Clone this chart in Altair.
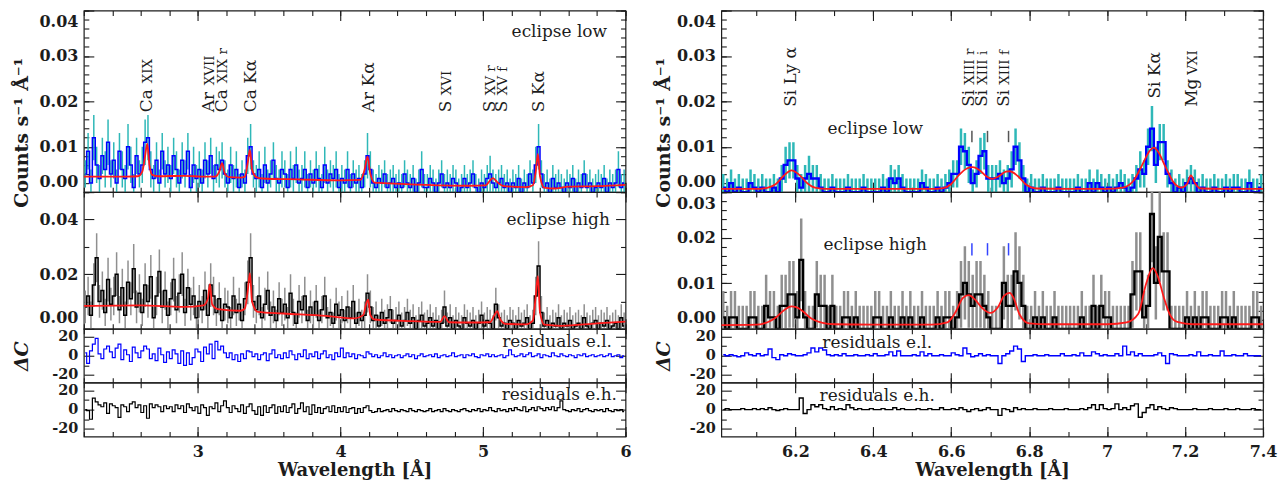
import altair as alt
import pandas as pd

FONT = "DejaVu Serif"
INK = "#1c1c1c"
CYAN = "#2fb8b8"
GRAY = "#8f8f8f"
BLUE = "#0000ff"
RED = "#ff1a1a"
MARK_GRAY = "#555555"

# ---------------- left column: 2.2-6.0 A, 0.02 A bins, values in 1e-3 counts/s/A ----------------
L_START, L_BIN, L_UNIT = 2.20, 0.02, 1e-3
EL_L = [4, 9, 2, 12, 6, 3, 8, 5, 11, 4,
        7, 2, 9, 5, 3, 10, 6, 1, 8, 4,
        6, 11, 12, 5, 3, 7, 2, 9, 4, 6,
        3, 8, 5, 2, 7, 4, 9, 1, 6, 3,
        5, 2, 7, 4, 8, 3, 6, 5, 7, 4,
        2, 6, 3, 5, 1, 4, 2, 8, 10, 4,
        3, 5, 1, 6, 2, 4, 7, 3, 2, 5,
        4, 1, 5, 3, 6, 2, 3, 5, 1, 4,
        2, 5, 3, 1, 6, 2, 4, 3, 5, 1,
        3, 2, 5, 1, 4, 2, 3, 1, 4, 8,
        5, 2, 1, 3, 2, 4, 1, 2, 3, 1,
        2, 1, 4, 2, 1, 3, 0, 2, 5, 1,
        1, 3, 2, 0, 2, 4, 1, 2, 1, 3,
        2, 0, 1, 3, 1, 2, 4, 1, 0, 2,
        1, 3, 4, 2, 1, 2, 3, 1, 2, 0,
        2, 1, 3, 0, 2, 1, 4, 2, 6, 10,
        4, 1, 2, 0, 3, 1, 2, 1, 0, 2,
        1, 3, 0, 2, 1, 4, 1, 2, 0, 1,
        2, 1, 3, 0, 2, 1, 2, 5, 1, 2]
ERR_EL_L = [3, 4, 3, 5, 4, 3, 4, 4, 5, 3,
            4, 3, 4, 4, 3, 5, 4, 3, 4, 3,
            4, 5, 5, 4, 3, 4, 3, 4, 3, 4,
            3, 4, 4, 3, 4, 3, 4, 3, 4, 3,
            4, 3, 4, 3, 4, 3, 4, 4, 4, 3,
            3, 4, 3, 4, 3, 3, 3, 4, 5, 3,
            3, 4, 3, 4, 3, 3, 4, 3, 3, 4,
            3, 3, 4, 3, 4, 3, 3, 4, 3, 3,
            3, 4, 3, 3, 4, 3, 3, 3, 4, 3,
            3, 3, 4, 3, 3, 3, 3, 3, 3, 5,
            4, 3, 3, 3, 3, 3, 3, 3, 3, 3,
            3, 3, 3, 3, 3, 3, 3, 3, 4, 3,
            3, 3, 3, 3, 3, 3, 3, 3, 3, 3,
            3, 3, 3, 3, 3, 3, 3, 3, 3, 3,
            3, 3, 4, 3, 3, 3, 3, 3, 3, 3,
            3, 3, 3, 3, 3, 3, 3, 3, 4, 5,
            3, 3, 3, 3, 3, 3, 3, 3, 3, 3,
            3, 3, 3, 3, 3, 3, 3, 3, 3, 3,
            3, 3, 3, 3, 3, 3, 3, 4, 3, 3]
EH_L = [8, 12, 5, 16, 26, 10, 14, 6, 18, 9,
        12, 20, 7, 15, 5, 17, 11, 22, 8, 13,
        6, 16, 10, 19, 4, 12, 21, 8, 14, 5,
        11, 18, 7, 13, 20, 6, 15, 9, 12, 4,
        10, 7, 14, 5, 16, 12, 6, 11, 3, 9,
        8, 4, 12, 6, 9, 3, 11, 17, 26, 10,
        7, 12, 4, 9, 14, 5, 8, 3, 11, 6,
        9, 4, 13, 6, 2, 10, 7, 12, 3, 8,
        5, 10, 3, 7, 12, 4, 6, 2, 9, 5,
        7, 3, 8, 4, 10, 2, 6, 3, 5, 13,
        8, 3, 5, 1, 6, 2, 4, 7, 2, 3,
        5, 1, 3, 6, 2, 4, 0, 3, 5, 1,
        2, 4, 1, 3, 0, 2, 8, 1, 4, 0,
        3, 1, 0, 4, 2, 1, 3, 0, 2, 5,
        1, 3, 2, 0, 9, 4, 1, 2, 0, 3,
        2, 0, 3, 1, 2, 4, 0, 2, 12, 23,
        6, 1, 3, 0, 2, 1, 4, 0, 2, 1,
        3, 0, 1, 2, 0, 4, 1, 0, 2, 3,
        0, 2, 1, 3, 0, 1, 2, 0, 4, 1]
ERR_EH_L = [6, 7, 5, 8, 9, 6, 7, 5, 8, 6,
            7, 8, 5, 7, 5, 8, 6, 9, 6, 7,
            5, 8, 6, 8, 4, 7, 8, 6, 7, 5,
            6, 8, 5, 7, 8, 5, 7, 6, 7, 4,
            6, 5, 7, 5, 8, 7, 5, 6, 4, 6,
            6, 4, 7, 5, 6, 4, 6, 8, 9, 6,
            5, 7, 4, 6, 7, 5, 6, 4, 6, 5,
            6, 4, 7, 5, 4, 6, 5, 7, 4, 6,
            5, 6, 4, 5, 7, 4, 5, 4, 6, 5,
            5, 4, 6, 4, 6, 4, 5, 4, 5, 7,
            6, 5, 5, 4, 5, 5, 5, 5, 5, 5,
            5, 5, 5, 5, 5, 5, 5, 5, 5, 5,
            5, 5, 5, 5, 5, 5, 6, 5, 5, 5,
            5, 5, 5, 5, 5, 5, 5, 5, 5, 5,
            5, 5, 5, 5, 6, 5, 5, 5, 5, 5,
            5, 5, 5, 5, 5, 5, 5, 5, 7, 9,
            6, 5, 5, 5, 5, 5, 5, 5, 5, 5,
            5, 5, 5, 5, 5, 5, 5, 5, 5, 5,
            5, 5, 5, 5, 5, 5, 5, 5, 5, 5]
RES_EL_L = [3, -8, 5, 12, 18, 2, -3, 7, 10, 4,
            -2, 8, 12, -4, 6, 1, -6, 9, 3, -2,
            5, 10, 7, -3, 2, -5, 8, 1, -7, 4,
            -3, 6, 2, -8, 5, -10, 3, -9, -2, 7,
            4, -6, 9, 2, 12, -3, 15, 6, 10, 3,
            -2, 3, -4, 1, -6, 2, -3, 5, 4, -1,
            2, -4, 1, 3, -5, 2, 6, -2, 1, -3,
            3, -2, 5, 1, -4, 2, -1, 6, -3, 2,
            -1, 4, -3, 2, 5, -2, 1, -4, 3, -1,
            8, -2, 3, -1, 2, -3, 1, 0, -2, 4,
            2, -1, 1, -2, 0, 3, -1, 1, -2, 0,
            1, -2, 0, 2, -1, 1, -3, 0, 2, -1,
            0, 1, -1, 2, -2, 0, 1, -1, 0, 3,
            -1, 0, 1, -2, 1, 0, 2, -1, -2, 1,
            0, 2, -1, 1, -1, 0, 1, -2, 0, 6,
            1, -1, 0, 2, -1, 1, 3, -1, 0, 2,
            -2, 1, 0, -1, 3, 0, -1, 2, 0, -1,
            1, 0, -2, 1, 0, 2, -1, 0, 1, -1,
            0, 1, -1, 0, 2, -1, 0, 1, -2, 0]
RES_EH_L = [0, -1, -10, 12, 8, 5, 3, 7, -4, 6,
            4, 2, -8, 5, 3, -2, 6, 8, 2, 5,
            -3, 4, -9, 6, 2, 5, 3, -2, 4, 1,
            3, -2, 5, 1, 4, -3, 6, 2, -1, 3,
            -4, 5, 2, -6, 3, 1, 7, -2, 4, 9,
            2, -3, 4, 1, -2, 5, -4, 3, 6, -1,
            -5, 3, -6, 4, -3, 2, 5, -4, 3, -2,
            4, -3, 2, 6, -4, 1, 7, -2, 3, -5,
            5, -3, 2, -4, 1, 3, -2, 4, -3, 2,
            -2, 3, -3, 1, 2, -4, 1, -3, 2, 4,
            -1, -3, -2, 1, -2, -1, 0, -2, 1, -1,
            -2, 0, -1, -2, 1, -1, -2, 0, -1, -2,
            -1, 1, -2, -1, 0, -2, 1, -1, -2, 0,
            -1, -2, 0, 1, -1, -2, 0, -1, 1, -2,
            0, -1, 2, -1, -2, 1, -1, 0, -2, 1,
            -1, 2, 0, -1, 3, -2, 0, 2, -1, 3,
            1, -1, 2, 0, 3, -1, 2, 9, 0, -1,
            -2, 0, -1, 1, -2, 0, 1, -1, -2, 0,
            -1, 0, -2, 1, -1, -2, 0, -1, 0, -2]
MOD_EL_L_X = [2.20, 2.50, 2.58, 2.61, 2.63, 2.645, 2.66, 2.68, 2.72, 2.90,
              3.05, 3.12, 3.15, 3.17, 3.19, 3.22, 3.30, 3.33, 3.35, 3.365,
              3.38, 3.41, 3.45, 3.70, 4.00, 4.14, 4.17, 4.19, 4.21, 4.24,
              4.30, 4.60, 4.90, 5.02, 5.05, 5.07, 5.10, 5.14, 5.30, 5.35,
              5.37, 5.385, 5.40, 5.43, 5.50, 5.60, 5.80, 6.00]
MOD_EL_L_Y = [3.4, 3.4, 3.5, 4.5, 8.0, 10.7, 6.0, 3.8, 3.5, 3.6,
              3.4, 3.4, 4.5, 6.4, 4.0, 3.3, 3.2, 3.4, 6.5, 9.3,
              5.0, 3.3, 3.0, 2.8, 2.6, 2.7, 5.0, 7.8, 4.0, 2.1,
              2.0, 1.6, 1.4, 1.5, 2.6, 3.1, 2.2, 1.4, 1.1, 1.5,
              4.5, 8.4, 3.5, 1.0, 0.8, 1.2, 1.3, 1.6]
MOD_EH_L_X = [2.20, 2.60, 2.90, 3.04, 3.07, 3.085, 3.10, 3.14, 3.30, 3.33,
              3.35, 3.365, 3.38, 3.42, 3.60, 3.90, 4.10, 4.16, 4.18, 4.195,
              4.21, 4.24, 4.50, 4.70, 4.73, 4.76, 4.90, 5.05, 5.08, 5.10,
              5.12, 5.16, 5.30, 5.35, 5.37, 5.385, 5.40, 5.43, 5.55, 5.80, 6.00]
MOD_EH_L_Y = [8.4, 8.6, 8.0, 8.6, 11.0, 16.3, 9.0, 7.2, 6.6, 7.5,
              14.0, 20.4, 10.0, 6.2, 5.6, 4.7, 3.8, 5.0, 9.0, 10.7,
              5.0, 3.4, 2.8, 2.5, 4.6, 2.4, 2.3, 2.4, 5.0, 6.5,
              3.5, 1.8, 1.6, 3.0, 12.0, 19.3, 6.0, 1.5, 1.1, 2.0, 2.6]

L_LINE_X = [2.635, 3.07, 3.16, 3.365, 4.195, 4.735, 5.045, 5.125, 5.385]
L_LINE_EL = ["Ca", "Ar", "Ca", "Ca K\u03b1", "Ar K\u03b1", "S", "S", "S", "S K\u03b1"]
L_LINE_ION = ["XIX", "XVII", "XIX r", "", "", "XVI", "XV r", "XV f", ""]
L_LINE_Y = [0.0176] * 9

# ---------------- right column: 6.01-7.40 A, 0.01 A bins ----------------
R_START, R_BIN = 6.01, 0.01
EL_R = [1, 0, 2, 0, 1, 0, 0, 2, 1, 0,
        1, 0, 0, 1, 0, 3, 6, 7, 7, 3,
        1, 3, 4, 3, 3, 1, 0, 0, 1, 0,
        0, 0, 1, 0, 0, 0, 1, 0, 0, 0,
        0, 1, 0, 3, 2, 3, 1, 0, 0, 0,
        0, 2, 1, 0, 0, 1, 0, 1, 2, 4,
        4, 10, 9, 6, 2, 4, 8, 9, 3, 3,
        3, 4, 2, 3, 5, 10, 7, 3, 0, 1,
        0, 0, 1, 0, 0, 0, 1, 0, 0, 0,
        0, 1, 0, 0, 2, 0, 2, 1, 0, 1,
        0, 1, 2, 1, 0, 1, 3, 5, 4, 10,
        14, 6, 11, 11, 4, 2, 0, 1, 0, 2,
        3, 2, 0, 1, 0, 0, 1, 0, 0, 1,
        0, 1, 1, 0, 0, 2, 0, 0, 1]
ERR_EL_R = [3, 3, 3, 3, 3, 3, 3, 3, 3, 3,
            3, 3, 3, 3, 3, 3, 4, 4, 4, 3,
            3, 3, 4, 3, 3, 3, 3, 3, 3, 3,
            3, 3, 3, 3, 3, 3, 3, 3, 3, 3,
            3, 3, 3, 3, 3, 3, 3, 3, 3, 3,
            3, 3, 3, 3, 3, 3, 3, 3, 3, 3,
            3, 4, 4, 4, 3, 3, 4, 4, 3, 3,
            3, 3, 3, 3, 4, 4, 4, 3, 3, 3,
            3, 3, 3, 3, 3, 3, 3, 3, 3, 3,
            3, 3, 3, 3, 3, 3, 3, 3, 3, 3,
            3, 3, 3, 3, 3, 3, 3, 4, 3, 4,
            5, 4, 4, 4, 3, 3, 3, 3, 3, 3,
            3, 3, 3, 3, 3, 3, 3, 3, 3, 3,
            3, 3, 3, 3, 3, 3, 3, 3, 3]
EL_R_UNIT = 1e-3
EH_R_COUNTS = [1, 0, 1, 1, 0, 0, 0, 1, 1, 0,
               0, 2, 1, 1, 0, 2, 2, 3, 3, 1,
               6, 1, 0, 0, 3, 2, 2, 0, 2, 0,
               0, 1, 1, 0, 1, 0, 0, 0, 0, 1,
               1, 0, 0, 1, 0, 0, 1, 0, 1, 0,
               0, 1, 0, 0, 0, 1, 0, 1, 1, 0,
               1, 3, 4, 3, 2, 3, 3, 2, 1, 0,
               0, 0, 4, 2, 2, 5, 4, 2, 0, 0,
               1, 0, 1, 0, 0, 1, 0, 0, 0, 0,
               0, 0, 1, 0, 0, 2, 0, 2, 1, 1,
               0, 0, 0, 0, 0, 3, 5, 5, 1, 2,
               10, 4, 8, 5, 5, 0, 0, 0, 0, 1,
               0, 1, 0, 1, 1, 0, 0, 0, 1, 1,
               0, 1, 0, 0, 0, 0, 1, 1, 0]
ERR_EH_R_COUNTS = [2.3, 2, 2.3, 2.3, 2, 2, 2, 2.3, 2.3, 2,
                   2, 2.7, 2.3, 2.3, 2, 2.7, 2.7, 2.9, 2.9, 2.3,
                   3.6, 2.3, 2, 2, 2.9, 2.7, 2.7, 2, 2.7, 2,
                   2, 2.3, 2.3, 2, 2.3, 2, 2, 2, 2, 2.3,
                   2.3, 2, 2, 2.3, 2, 2, 2.3, 2, 2.3, 2,
                   2, 2.3, 2, 2, 2, 2.3, 2, 2.3, 2.3, 2,
                   2.3, 2.9, 3.2, 2.9, 2.7, 2.9, 2.9, 2.7, 2.3, 2,
                   2, 2, 3.2, 2.7, 2.7, 3.4, 3.2, 2.7, 2, 2,
                   2.3, 2, 2.3, 2, 2, 2.3, 2, 2, 2, 2,
                   2, 2, 2.3, 2, 2, 2.7, 2, 2.7, 2.3, 2.3,
                   2, 2, 2, 2, 2, 2.9, 3.4, 3.4, 2.3, 2.7,
                   4.2, 3.2, 3.9, 3.4, 3.4, 2, 2, 2, 2, 2.3,
                   2, 2.3, 2, 2.3, 2.3, 2, 2, 2, 2.3, 2.3,
                   2, 2.3, 2, 2, 2, 2, 2.3, 2.3, 2]
EH_R_UNIT = 2.52e-3  # counts/s/A per count in a bin
RES_EL_R = [1, 0, 1, 0, -1, 0, 3, 1, 0, 2,
            0, 1, 7, -2, -4, 1, 0, 2, 1, 0,
            0, 1, 3, 8, 4, 8, 6, 1, 0, 1,
            0, 2, 0, 0, 1, 0, 0, 1, 0, 2,
            0, 0, 1, 4, 0, 5, 0, 0, 0, 1,
            0, 4, 0, 2, 0, 0, 1, 0, 0, 3,
            1, 0, 8, 2, -1, 0, 2, 0, 1, 0,
            0, -8, 0, 2, 5, 10, 7, -6, 0, 0,
            1, 0, 0, 1, 0, 0, 0, 2, 0, 0,
            1, 0, 3, 0, 0, 4, 2, 0, 1, 0,
            0, 2, 0, 10, 1, 4, 0, 2, 0, 0,
            0, 1, 3, 0, -8, 2, 1, 0, 0, 0,
            1, 0, 4, 0, 0, 1, 0, 0, 5, 0,
            0, 1, 0, 0, 2, 0, 0, 0, 0]
RES_EH_R = [0, 1, 0, 0, 0, 1, 0, 0, 1, 0,
            1, 0, 2, 0, -1, 0, 1, 0, 0, 0,
            12, -4, 0, 5, 3, 5, 1, 0, 3, 0,
            1, 0, 5, 2, 0, 1, 0, 0, 1, 0,
            0, 1, 0, 0, 2, 0, 1, 0, 0, 0,
            1, 0, 0, 1, 0, 0, 2, 0, 0, 1,
            0, 2, 0, -2, 0, 1, -1, 0, 2, 0,
            0, -6, 1, 0, -2, 2, 0, 1, 0, 0,
            1, 0, 0, 0, 1, 0, 0, 0, 1, 0,
            0, 0, 1, 0, 2, 5, 0, 5, 1, 0,
            1, 6, 0, 2, 0, 4, 6, -8, -3, 2,
            5, 0, 3, 1, 0, 2, 1, 0, 0, 0,
            0, 1, 0, 0, 0, 1, 0, 0, 0, 1,
            0, 0, 1, 0, 0, 0, 1, 0, 0]
MOD_EL_R_X = [6.01, 6.10, 6.13, 6.15, 6.17, 6.19, 6.21, 6.23, 6.25, 6.28,
              6.40, 6.55, 6.58, 6.60, 6.62, 6.64, 6.655, 6.67, 6.69, 6.705,
              6.72, 6.74, 6.75, 6.77, 6.79, 6.82, 6.90, 7.00, 7.04, 7.07,
              7.09, 7.11, 7.12, 7.13, 7.15, 7.17, 7.19, 7.205, 7.215, 7.225,
              7.24, 7.30, 7.40]
MOD_EL_R_Y = [0.7, 0.7, 1.0, 1.8, 3.6, 4.8, 3.8, 2.0, 1.0, 0.7,
              0.7, 0.7, 0.9, 1.8, 3.8, 5.2, 5.5, 5.0, 3.5, 2.9,
              3.4, 4.5, 4.6, 3.6, 1.8, 0.8, 0.7, 0.7, 1.0, 2.8,
              6.0, 9.2, 9.8, 9.0, 5.5, 2.2, 1.0, 1.8, 3.7, 2.0,
              0.8, 0.7, 0.7]
MOD_EH_R_X = [6.01, 6.10, 6.13, 6.15, 6.17, 6.19, 6.20, 6.22, 6.24, 6.27,
              6.30, 6.40, 6.55, 6.59, 6.61, 6.63, 6.645, 6.66, 6.68, 6.70,
              6.72, 6.735, 6.75, 6.76, 6.775, 6.80, 6.85, 7.00, 7.05, 7.08,
              7.10, 7.117, 7.13, 7.145, 7.16, 7.18, 7.22, 7.40]
MOD_EH_R_Y = [0.8, 0.9, 1.5, 2.5, 4.0, 4.9, 4.8, 3.8, 2.3, 1.3,
              1.0, 0.9, 0.9, 1.4, 3.5, 6.8, 7.4, 6.5, 4.5, 3.5,
              4.8, 7.2, 7.9, 6.8, 3.2, 1.2, 1.0, 1.0, 1.4, 3.3,
              9.9, 13.3, 11.5, 7.0, 3.3, 1.5, 1.0, 1.0]

R_LINE_X = [6.185, 6.643, 6.676, 6.732, 7.12, 7.216]
R_LINE_EL = ["Si Ly \u03b1", "Si", "Si", "Si", "Si K\u03b1", "Mg"]
R_LINE_ION = ["", "XIII r", "XIII i", "XIII f", "", "VXI"]
R_LINE_Y = [0.0188, 0.0188, 0.0188, 0.0188, 0.0206, 0.0188]
SI13_MARK_X = [6.653, 6.693, 6.747]
SI13_MARK_EL = (0.0110, 0.0135)
SI13_MARK_EH = (0.0161, 0.0188)

NOTES_L = [("eclipse low", 5.87, 0.0352), ("eclipse high", 5.89, 0.0397),
           ("residuals e.l.", 5.905, 14.5), ("residuals e.h.", 5.94, 15.5)]
NOTES_R = [("eclipse low", 6.405, 0.0140), ("eclipse high", 6.405, 0.0184),
           ("residuals e.l.", 6.41, 13.0), ("residuals e.h.", 6.41, 14.5)]

ELEM_ADV = {"Ca": 29, "Ar": 27, "S": 17, "Si": 22, "Mg": 32}

W = 543
H = [182, 137, 54, 54]


# ---------------- helpers ----------------
def sc(dom):
    return alt.Scale(domain=list(dom), nice=False, zero=False)


def xenc(xd):
    return alt.X("x:Q", scale=sc(xd), axis=None)


def yenc(yd, f="y"):
    return alt.Y(f + ":Q", scale=sc(yd), axis=None)


def spec_df(start, width, vals, errs, unit):
    return pd.DataFrame({
        "x": [start + width * (i + 0.5) for i in range(len(vals))],
        "y": [v * unit for v in vals],
        "lo": [(v - e) * unit for v, e in zip(vals, errs)],
        "hi": [(v + e) * unit for v, e in zip(vals, errs)],
    })


def res_df(start, width, vals):
    return pd.DataFrame({"x": [start + width * (i + 0.5) for i in range(len(vals))], "y": vals})


def model_df(xs, ys):
    return pd.DataFrame({"x": xs, "y": [v * 1e-3 for v in ys]})


def axis_layers(xd, yd, xmaj, xmin, ymaj, ymin, ylab_expr, x_labels=False, x_title=None,
                y_title=None, y_title_xy=(0, 0), y_flush=False, y_italic=False, ylab_size=16):
    carrier = pd.DataFrame({"x": [xd[0]], "y": [yd[0]]})
    out = []
    for xo, yo, major in (("bottom", "left", True), ("top", "right", True),
                          ("bottom", "left", False), ("top", "right", False)):
        ts = 10 if major else 5
        base = dict(tickSize=ts, offset=-ts, domain=False, grid=False, tickColor=INK,
                    tickWidth=1.1, labels=False, title=None)
        xkw = dict(base, orient=xo, values=xmaj if major else xmin)
        ykw = dict(base, orient=yo, values=ymaj if major else ymin)
        if major and xo == "bottom" and x_labels:
            xkw.update(labels=True, labelExpr="format(datum.value, '~g')", labelFont=FONT,
                       labelFontSize=16, labelFontWeight="bold", labelColor=INK,
                       labelPadding=7, labelFlush=False)
            if x_title:
                xkw.update(title=x_title, titleFont=FONT, titleFontSize=18,
                           titleFontWeight="bold", titleColor=INK, titlePadding=2)
        if major and yo == "left":
            ykw.update(labels=True, labelExpr=ylab_expr, labelFont=FONT, labelFontSize=ylab_size,
                       labelFontWeight="bold", labelColor=INK, labelPadding=6,
                       labelFlush=y_flush, labelFlushOffset=-3)
            if y_title:
                ykw.update(title=y_title, titleFont=FONT, titleFontSize=19,
                           titleFontWeight="bold", titleColor=INK, titleAngle=270,
                           titleAlign="center", titleBaseline="middle",
                           titleX=y_title_xy[0], titleY=y_title_xy[1],
                           titleFontStyle="italic" if y_italic else "normal")
        out.append(alt.Chart(carrier).mark_point(opacity=0).encode(
            x=alt.X("x:Q", scale=sc(xd), axis=alt.Axis(**xkw)),
            y=alt.Y("y:Q", scale=sc(yd), axis=alt.Axis(**ykw))))
    return out


def note_layer(xd, yd, text, x, y, align):
    d = pd.DataFrame({"x": [x], "y": [y], "t": [text]})
    return alt.Chart(d).mark_text(align=align, baseline="middle", font=FONT, fontSize=17,
                                  color=INK).encode(x=xenc(xd), y=yenc(yd), text="t:N")


def line_label_layers(xd, yd, xs, elems, ions, ys):
    d = pd.DataFrame({"x": xs, "y": ys, "el": elems})
    layers = [alt.Chart(d).mark_text(angle=270, align="left", baseline="alphabetic", dy=6,
                                     font=FONT, fontSize=17, color=INK).encode(
        x=xenc(xd), y=yenc(yd), text="el:N")]
    for x, e, ion, y in zip(xs, elems, ions, ys):
        if ion:
            di = pd.DataFrame({"x": [x], "y": [y], "t": [ion]})
            layers.append(alt.Chart(di).mark_text(
                angle=270, align="left", baseline="alphabetic", dx=ELEM_ADV[e], dy=6,
                font=FONT, fontSize=13.5, color=INK).encode(x=xenc(xd), y=yenc(yd), text="t:N"))
    return layers


def flux_panel(df, mod, xd, yd, err_color, line_color, err_w, line_w, h, extras, ax):
    layers = [
        alt.Chart(df).mark_rule(color=err_color, strokeWidth=err_w, clip=True).encode(
            x=xenc(xd), y=yenc(yd, "lo"), y2="hi:Q"),
        alt.Chart(df).mark_line(interpolate="step", color=line_color, strokeWidth=line_w,
                                clip=True).encode(x=xenc(xd), y=yenc(yd)),
        alt.Chart(mod).mark_line(interpolate="monotone", color=RED, strokeWidth=1.8,
                                 clip=True).encode(x=xenc(xd), y=yenc(yd)),
    ] + extras + axis_layers(xd, yd, **ax)
    return alt.layer(*layers).resolve_axis(x="independent", y="independent").properties(
        width=W, height=h)


def res_panel(df, xd, yd, color, w, h, extras, ax):
    layers = [alt.Chart(df).mark_line(interpolate="step", color=color, strokeWidth=w,
                                      clip=True).encode(x=xenc(xd), y=yenc(yd))] \
        + extras + axis_layers(xd, yd, **ax)
    return alt.layer(*layers).resolve_axis(x="independent", y="independent").properties(
        width=W, height=h)


FLUX_FMT = "format(datum.value, '.2f')"
RES_FMT = "'' + datum.value"
YD_TOP = (0, 0.04)
YD_RES = (-28, 28)
Y_TOP_MAJ = [0, 0.01, 0.02, 0.03, 0.04]
Y_TOP_MIN = [0.002 * i for i in range(21)]
Y_RES_MAJ = [-20, 0, 20]
Y_RES_MIN = [-10, 10]
COUNTS_TITLE = "Counts s\u207b\u00b9 \u00c5\u207b\u00b9"
DC_TITLE = "\u0394C"


def build_column(side):
    if side == "L":
        xd = (2.2, 6.0)
        xmaj = [3, 4, 5, 6]
        xmin = [round(2.2 + 0.2 * i, 2) for i in range(20)]
        tx = -72
        el_df = spec_df(L_START, L_BIN, EL_L, ERR_EL_L, L_UNIT)
        eh_df = spec_df(L_START, L_BIN, EH_L, ERR_EH_L, L_UNIT)
        rel = res_df(L_START, L_BIN, RES_EL_L)
        reh = res_df(L_START, L_BIN, RES_EH_L)
        mel = model_df(MOD_EL_L_X, MOD_EL_L_Y)
        meh = model_df(MOD_EH_L_X, MOD_EH_L_Y)
        yd2 = (0, 0.05)
        y2maj, y2min = [0, 0.02, 0.04], [0.01, 0.03, 0.05]
        notes, align = NOTES_L, "right"
        labels = line_label_layers(xd, YD_TOP, L_LINE_X, L_LINE_EL, L_LINE_ION, L_LINE_Y)
        extra2 = []
        ew, lw = 1.5, 1.5
        rw = 1.2
    else:
        xd = (6.01, 7.4)
        xmaj = [6.2, 6.4, 6.6, 6.8, 7.0, 7.2, 7.4]
        xmin = [round(6.1 + 0.1 * i, 2) for i in range(14)]
        tx = -68
        el_df = spec_df(R_START, R_BIN, EL_R, ERR_EL_R, EL_R_UNIT)
        eh_df = spec_df(R_START, R_BIN, EH_R_COUNTS, ERR_EH_R_COUNTS, EH_R_UNIT)
        rel = res_df(R_START, R_BIN, RES_EL_R)
        reh = res_df(R_START, R_BIN, RES_EH_R)
        mel = model_df(MOD_EL_R_X, MOD_EL_R_Y)
        meh = model_df(MOD_EH_R_X, MOD_EH_R_Y)
        yd2 = (0, 0.03)
        y2maj, y2min = [0, 0.01, 0.02, 0.03], [0.002 * i for i in range(16)]
        notes, align = NOTES_R, "center"
        labels = line_label_layers(xd, YD_TOP, R_LINE_X, R_LINE_EL, R_LINE_ION, R_LINE_Y)
        mk1 = pd.DataFrame({"x": SI13_MARK_X, "a": [SI13_MARK_EL[0]] * 3, "b": [SI13_MARK_EL[1]] * 3})
        mk2 = pd.DataFrame({"x": SI13_MARK_X, "a": [SI13_MARK_EH[0]] * 3, "b": [SI13_MARK_EH[1]] * 3})
        labels = labels + [alt.Chart(mk1).mark_rule(color=MARK_GRAY, strokeWidth=1.5).encode(
            x=xenc(xd), y=yenc(YD_TOP, "a"), y2="b:Q")]
        extra2 = [alt.Chart(mk2).mark_rule(color="#3344ff", strokeWidth=1.5).encode(
            x=xenc(xd), y=yenc(yd2, "a"), y2="b:Q")]
        ew, lw = 2.5, 2.3
        rw = 1.4

    p1 = flux_panel(el_df, mel, xd, YD_TOP, CYAN, BLUE, ew, lw, H[0],
                    labels + [note_layer(xd, YD_TOP, notes[0][0], notes[0][1], notes[0][2], align)],
                    dict(xmaj=xmaj, xmin=xmin, ymaj=Y_TOP_MAJ, ymin=Y_TOP_MIN, ylab_expr=FLUX_FMT,
                         y_flush=True, y_title=COUNTS_TITLE, y_title_xy=(tx, 122)))
    p2 = flux_panel(eh_df, meh, xd, yd2, GRAY, "black", ew, lw, H[1],
                    extra2 + [note_layer(xd, yd2, notes[1][0], notes[1][1], notes[1][2], align)],
                    dict(xmaj=xmaj, xmin=xmin, ymaj=y2maj, ymin=y2min, ylab_expr=FLUX_FMT,
                         y_flush=True))
    p3 = res_panel(rel, xd, YD_RES, BLUE, rw, H[2],
                   [note_layer(xd, YD_RES, notes[2][0], notes[2][1], notes[2][2], align)],
                   dict(xmaj=xmaj, xmin=xmin, ymaj=Y_RES_MAJ, ymin=Y_RES_MIN, ylab_expr=RES_FMT,
                        y_title=DC_TITLE, y_title_xy=(tx, 27), y_italic=True, ylab_size=14.5))
    p4 = res_panel(reh, xd, YD_RES, "black", rw, H[3],
                   [note_layer(xd, YD_RES, notes[3][0], notes[3][1], notes[3][2], align)],
                   dict(xmaj=xmaj, xmin=xmin, ymaj=Y_RES_MAJ, ymin=Y_RES_MIN, ylab_expr=RES_FMT,
                        x_labels=True, x_title="Wavelength [\u00c5]", ylab_size=14.5))
    return alt.vconcat(p1, p2, p3, p4, spacing=0, bounds="flush")


chart = alt.hconcat(build_column("L"), build_column("R"), spacing=21).properties(
    padding={"left": 4, "top": 0, "right": 0, "bottom": 0}
).configure_view(stroke=INK, strokeWidth=1.2)

chart.save("out.html", embed_options={"renderer": "svg", "actions": False})
